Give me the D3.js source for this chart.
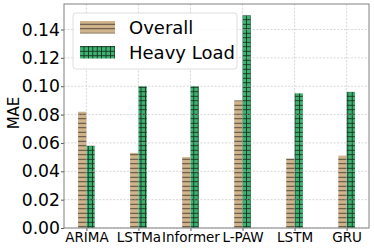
<!DOCTYPE html>
<html>
<head>
<meta charset="utf-8">
<script src="https://cdn.jsdelivr.net/npm/d3@7"></script>
<style>
  body { margin: 0; background: #fff; }
  text { font-family: "DejaVu Sans", sans-serif; fill: #000; }
</style>
</head>
<body>
<div id="chart"></div>
<script>
// MAE per model
var models = ["ARIMA", "LSTMa", "Informer", "L-PAW", "LSTM", "GRU"];
var overall = [0.082, 0.053, 0.050, 0.090, 0.049, 0.051];
var heavyLoad = [0.058, 0.100, 0.100, 0.150, 0.095, 0.096];
var yTicks = [0.00, 0.02, 0.04, 0.06, 0.08, 0.10, 0.12, 0.14];
var seriesNames = ["Overall", "Heavy Load"];

var svgWidth = 374;
var svgHeight = 249;
var margin = { top: 4, right: 5, bottom: 21, left: 64 };
var width = svgWidth - margin.left - margin.right;
var height = svgHeight - margin.top - margin.bottom;

var svg = d3.select("#chart")
    .append("svg")
    .attr("width", svgWidth)
    .attr("height", svgHeight);

var defs = svg.append("defs");

// hatch "-" on tan
var pTan = defs.append("pattern")
    .attr("id", "hatchTan")
    .attr("patternUnits", "userSpaceOnUse")
    .attr("width", 4.5)
    .attr("height", 4.5);
pTan.append("rect").attr("width", 4.5).attr("height", 4.5).attr("fill", "#d2b48c");
pTan.append("line")
    .attr("x1", 0).attr("x2", 4.5).attr("y1", 2.25).attr("y2", 2.25)
    .attr("stroke", "#4d4538").attr("stroke-width", 1);

// hatch "+" on green
var pGreen = defs.append("pattern")
    .attr("id", "hatchGreen")
    .attr("patternUnits", "userSpaceOnUse")
    .attr("width", 4.4)
    .attr("height", 4.5);
pGreen.append("rect").attr("width", 4.4).attr("height", 4.5).attr("fill", "#3cb371");
pGreen.append("line")
    .attr("x1", 0).attr("x2", 4.4).attr("y1", 2.25).attr("y2", 2.25)
    .attr("stroke", "#17301f").attr("stroke-width", 0.9);
pGreen.append("line")
    .attr("x1", 2.2).attr("x2", 2.2).attr("y1", 0).attr("y2", 4.5)
    .attr("stroke", "#17301f").attr("stroke-width", 0.9);

var g = svg.append("g")
    .attr("transform", `translate(${margin.left}, ${margin.top})`);

// matplotlib-like positions: category i at x = i, bars of width 0.16
var barW = 0.16;
var xScale = d3.scaleLinear()
    .domain([-0.43, models.length - 1 + 0.43])
    .range([0, width]);
var yScale = d3.scaleLinear()
    .domain([0, 0.158])
    .range([height, 0]);

// bars
g.selectAll(".bar-overall")
    .data(overall)
    .enter()
    .append("rect")
    .attr("class", "bar-overall")
    .attr("x", (d, i) => xScale(i - barW))
    .attr("width", (d, i) => xScale(i) - xScale(i - barW))
    .attr("y", d => yScale(d))
    .attr("height", d => yScale(0) - yScale(d))
    .attr("fill", "url(#hatchTan)");

g.selectAll(".bar-heavy")
    .data(heavyLoad)
    .enter()
    .append("rect")
    .attr("class", "bar-heavy")
    .attr("x", (d, i) => xScale(i))
    .attr("width", (d, i) => xScale(i + barW) - xScale(i))
    .attr("y", d => yScale(d))
    .attr("height", d => yScale(0) - yScale(d))
    .attr("fill", "url(#hatchGreen)");

// grid drawn on top of bars, light and dashed
var grid = g.append("g").attr("opacity", 0.6);
grid.selectAll(".hgrid")
    .data(yTicks)
    .enter()
    .append("line")
    .attr("x1", 0).attr("x2", width)
    .attr("y1", d => yScale(d)).attr("y2", d => yScale(d))
    .attr("stroke", "#b0b0b0").attr("stroke-width", 0.8)
    .attr("stroke-dasharray", "2,1.5");
grid.selectAll(".vgrid")
    .data(models)
    .enter()
    .append("line")
    .attr("x1", (d, i) => xScale(i)).attr("x2", (d, i) => xScale(i))
    .attr("y1", 0).attr("y2", height)
    .attr("stroke", "#b0b0b0").attr("stroke-width", 0.8)
    .attr("stroke-dasharray", "2,1.5");

// axes
var leftAxis = d3.axisLeft(yScale)
    .tickValues(yTicks)
    .tickFormat(d3.format(".2f"))
    .tickSize(3)
    .tickPadding(1);
var bottomAxis = d3.axisBottom(xScale)
    .tickValues(d3.range(models.length))
    .tickFormat(i => models[i])
    .tickSize(3)
    .tickPadding(1);

var yAxis = g.append("g").call(leftAxis);
yAxis.select(".domain").remove();
yAxis.selectAll("text").style("font-size", "17.2px");
yAxis.selectAll("line").attr("stroke", "#555");

var xAxis = g.append("g")
    .attr("transform", `translate(0, ${height})`)
    .call(bottomAxis);
xAxis.select(".domain").remove();
xAxis.selectAll("text").style("font-size", "13.5px");
xAxis.selectAll("line").attr("stroke", "#555");

// frame
g.append("rect")
    .attr("width", width)
    .attr("height", height)
    .attr("fill", "none")
    .attr("stroke", "#808080")
    .attr("stroke-width", 1);

// y label
svg.append("text")
    .attr("transform", `translate(19, ${margin.top + height / 2 - 3}) rotate(-90)`)
    .attr("text-anchor", "middle")
    .style("font-size", "15px")
    .text("MAE");

// legend
var legend = svg.append("g").attr("transform", "translate(73, 13)");
legend.append("rect")
    .attr("width", 164)
    .attr("height", 56)
    .attr("rx", 3)
    .attr("fill", "#fff")
    .attr("fill-opacity", 0.85)
    .attr("stroke", "#d6d6d6")
    .attr("stroke-width", 0.8);

var legendFills = ["url(#hatchTan)", "url(#hatchGreen)"];
seriesNames.forEach(function(name, i) {
    legend.append("rect")
        .attr("x", 7)
        .attr("y", 8 + i * 25)
        .attr("width", 35)
        .attr("height", 12.5)
        .attr("fill", legendFills[i]);
    legend.append("text")
        .attr("x", 56)
        .attr("y", 20.5 + i * 25)
        .style("font-size", "18px")
        .text(name);
});
</script>
</body>
</html>
